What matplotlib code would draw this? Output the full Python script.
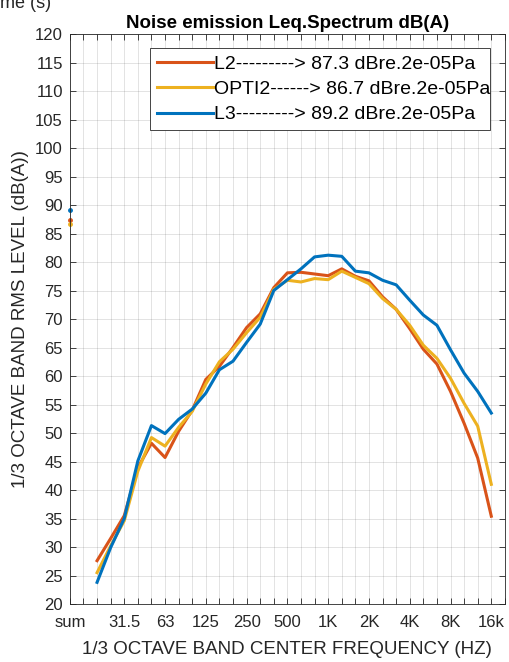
import matplotlib
matplotlib.use("Agg")
import matplotlib.pyplot as plt
import numpy as np

plt.rcParams['font.family'] = ['Liberation Sans', 'DejaVu Sans']

# x positions: index 0 is the overall "sum", 1/3 octave bands 20 Hz .. 16 kHz are indices 2..31
tick_pos = [0, 4, 7, 10, 13, 16, 19, 22, 25, 28, 31]
tick_lab = ['sum', '31.5', '63', '125', '250', '500', '1K', '2K', '4K', '8K', '16k']
band_idx = list(range(2, 32))

l2 = [27.6, 31.5, 35.5, 43.9, 48.2, 45.7, 50.3, 54.0, 59.4, 61.7, 65.0, 68.5,
      70.9, 75.5, 78.1, 78.2, 77.9, 77.6, 78.8, 77.5, 76.7, 73.9, 71.7, 68.3,
      64.7, 62.1, 57.3, 51.7, 45.6, 35.4]
opti2 = [25.5, 30.2, 34.6, 43.3, 49.2, 47.7, 51.0, 53.8, 58.6, 62.5, 64.7, 67.6,
         70.3, 75.2, 76.8, 76.5, 77.1, 76.9, 78.4, 77.3, 76.2, 73.6, 71.7, 68.9,
         65.4, 63.1, 59.6, 55.2, 51.2, 41.0]
l3 = [23.8, 29.9, 35.0, 45.1, 51.3, 49.9, 52.4, 54.2, 57.0, 61.1, 62.6, 65.9,
      69.1, 75.0, 76.9, 78.8, 80.9, 81.2, 81.0, 78.4, 78.1, 76.8, 76.0, 73.3,
      70.7, 68.9, 64.6, 60.5, 57.3, 53.5]
sums = [87.3, 86.7, 89.2]
names = ['L2', 'OPTI2', 'L3']
colors = ['#D95319', '#EDB120', '#0072BD']

fig = plt.figure(figsize=(5.10, 6.62), dpi=100)
ax = fig.add_axes([0.137, 0.0876, 0.853, 0.861])

for name, vals, s, c in zip(names, [l2, opti2, l3], sums, colors):
    lab = name + '-' * (11 - len(name)) + f'> {s} dBre.2e-05Pa'
    ax.plot(band_idx, vals, color=c, lw=2.2, label=lab)
    ax.plot([0], [s], '.', color=c, ms=5, clip_on=False)

ax.set_xlim(0, 32)
ax.set_ylim(20, 120)
ax.set_xticks(range(0, 33))
ax.set_xticklabels([tick_lab[tick_pos.index(i)] if i in tick_pos else '' for i in range(33)])
ax.set_yticks(np.arange(20, 121, 5))
ax.tick_params(direction='in', top=True, right=True, labelsize=12, length=4,
               color='#262626', labelcolor='#262626', width=0.6)
ax.tick_params(axis='x', pad=8)
ax.tick_params(axis='y', pad=5)
ax.grid(True, color='#262626', alpha=0.15, lw=0.6)
for sp in ax.spines.values():
    sp.set_color('#262626')
    sp.set_linewidth(0.6)

ax.set_xlabel('1/3 OCTAVE BAND CENTER FREQUENCY (HZ)', fontsize=13.5, color='#262626', labelpad=8)
ax.set_ylabel('1/3 OCTAVE BAND RMS LEVEL (dB(A))', fontsize=13.5, color='#262626', labelpad=4)
ax.set_title('Noise emission Leq.Spectrum dB(A)', fontsize=13.5, fontweight='bold', pad=4)

leg = ax.legend(loc='upper left', mode='expand', fontsize=14, handlelength=2.9, fancybox=False,
                edgecolor='#262626', framealpha=1, borderpad=0.35, labelspacing=0.4,
                handletextpad=0.05, borderaxespad=0, bbox_to_anchor=(0.184, 0.0, 0.782, 0.975))
leg.get_frame().set_linewidth(0.6)

fig.text(0.0, 0.982, 'me (s)', fontsize=13, va='bottom', color='#262626')

fig.savefig('out.png', dpi=100)
